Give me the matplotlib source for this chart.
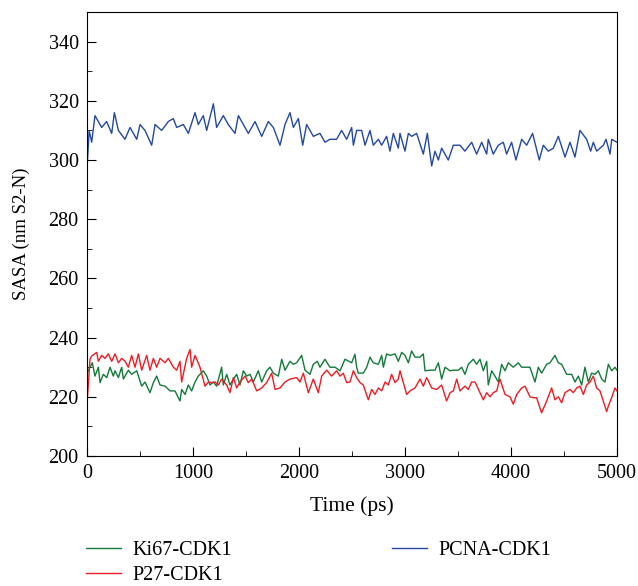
import matplotlib.pyplot as plt
from matplotlib.ticker import MultipleLocator

# values
pcna_t = [0, 20, 44, 75, 138, 185, 233, 258, 296, 358, 406, 469, 500, 547, 610, 642, 704, 767,
          814, 846, 909, 956, 1019, 1050, 1097, 1129, 1192, 1223, 1286, 1333, 1396, 1428, 1475,
          1522, 1585, 1648, 1711, 1758, 1821, 1868, 1915, 1947, 1994, 2035, 2072, 2135, 2198,
          2245, 2292, 2355, 2402, 2450, 2497, 2513, 2544, 2591, 2623, 2670, 2701, 2749, 2780,
          2827, 2858, 2890, 2937, 2953, 3000, 3032, 3063, 3110, 3173, 3211, 3252, 3283, 3315,
          3346, 3409, 3456, 3519, 3566, 3629, 3676, 3724, 3771, 3786, 3833, 3881, 3928, 3959,
          4006, 4047, 4101, 4148, 4204, 4267, 4305, 4352, 4400, 4447, 4510, 4557, 4604, 4651,
          4714, 4752, 4777, 4809, 4872, 4897, 4935, 4951, 5000]
pcna_v = [297, 310, 306, 315, 311, 313, 309, 316, 310, 307, 311, 307, 312, 310, 305, 312, 310, 313,
          314, 311, 312, 309, 316, 312, 315, 310, 319, 311, 315, 312, 309, 315, 312,
          309, 313, 308, 313, 311, 305, 312, 316, 311, 314, 305, 312, 308, 309,
          306, 307, 307, 310, 307, 311, 305, 310, 310, 305, 310, 305, 307, 305,
          308, 303, 309, 304, 309, 303, 309, 308, 309, 302, 309, 298, 303, 300,
          304, 300, 305, 305, 303, 306, 302, 306, 302, 307, 302, 305, 306, 302,
          306, 300, 307, 305, 309, 300, 305, 303, 304, 308, 301, 306, 301, 310,
          307, 303, 306, 303, 305, 307, 302, 307, 306]

ki67_t = [0, 28, 50, 75, 107, 123, 154, 186, 217, 248, 264, 296, 327, 343, 390, 421, 469, 516,
          547, 594, 626, 657, 689, 736, 783, 830, 877, 893, 925, 956, 987, 1019, 1050, 1097,
          1129, 1160, 1192, 1223, 1270, 1286, 1318, 1349, 1381, 1412, 1443, 1475, 1506, 1538,
          1569, 1616, 1648, 1695, 1726, 1758, 1805, 1837, 1868, 1915, 1947, 1978, 2025, 2057,
          2104, 2135, 2173, 2198, 2245, 2292, 2340, 2387, 2434, 2497, 2528, 2544, 2560, 2607,
          2639, 2670, 2701, 2749, 2780, 2796, 2827, 2859, 2906, 2937, 2969, 3000, 3032, 3063,
          3095, 3142, 3173, 3189, 3236, 3283, 3315, 3346, 3378, 3425, 3456, 3503, 3535, 3566,
          3598, 3645, 3676, 3708, 3739, 3771, 3786, 3818, 3849, 3881, 3912, 3944, 3975, 4022,
          4069, 4101, 4132, 4179, 4227, 4258, 4289, 4337, 4368, 4415, 4447, 4478, 4525, 4573,
          4604, 4636, 4667, 4698, 4730, 4761, 4793, 4824, 4856, 4887, 4919, 4950, 4981, 5000]
ki67_v = [228, 230, 231.5, 227, 230, 224.8, 227.6, 226.5, 230, 227, 228.8, 226.5, 230, 226, 229, 227.6, 228.8, 223.6,
          225, 221.4, 224.8, 227, 224, 223.6, 222, 222, 218.6, 222.5, 220.8, 224, 222, 225, 227, 228.8,
          227, 224, 225, 223.6, 230, 224, 227.6, 224, 226, 227.6, 224, 228.8, 227, 227.6,
          225, 228.8, 225, 228.8, 230, 228, 227, 232.7, 229, 232, 231, 231.5, 234, 229,
          227.6, 231, 232, 230, 232.7, 230, 230, 228.8, 232.7, 231.5, 234.4, 230, 228, 228,
          230, 233.4, 231.5, 231, 234, 230, 234.5, 234, 234.5, 232, 235, 234, 231.5, 235.5,
          233.4, 233.4, 234.5, 228.8, 229, 229, 231.5, 226, 230, 228.8, 229, 229, 230, 227.6,
          231, 232.7, 231, 232.7, 228.8, 232, 224, 228.8, 227, 225, 231, 228.8, 231.5, 230,
          231.5, 230, 230, 230, 225, 230, 228, 231, 231.5, 234, 231.5, 231, 227.6, 227.6,
          225, 227, 224, 230, 225, 228, 227.6, 228.8, 226, 225, 231, 228.8, 230, 229]

p27_t = [0, 28, 44, 91, 107, 138, 170, 201, 233, 264, 296, 327, 359, 390, 421, 453, 484, 516,
         563, 594, 626, 657, 689, 736, 767, 815, 846, 877, 893, 940, 972, 987, 1019, 1066,
         1113, 1145, 1176, 1208, 1239, 1270, 1318, 1349, 1381, 1412, 1443, 1491, 1522, 1554,
         1601, 1648, 1695, 1742, 1774, 1821, 1868, 1915, 1978, 2009, 2041, 2088, 2135, 2182,
         2214, 2261, 2308, 2355, 2387, 2418, 2450, 2481, 2513, 2544, 2576, 2607, 2654, 2686,
         2717, 2749, 2780, 2812, 2843, 2874, 2906, 2937, 2953, 2984, 3016, 3047, 3095, 3142,
         3173, 3205, 3252, 3299, 3346, 3393, 3425, 3456, 3488, 3519, 3566, 3598, 3629, 3661,
         3708, 3739, 3771, 3802, 3834, 3865, 3896, 3944, 3991, 4022, 4054, 4101, 4133, 4179,
         4211, 4242, 4289, 4337, 4384, 4415, 4447, 4478, 4510, 4557, 4588, 4620, 4651, 4683,
         4714, 4746, 4777, 4808, 4840, 4871, 4903, 4919, 4950, 4981, 5000]
p27_v = [217.5, 232.7, 233.8, 235, 232, 234, 233, 234.5, 232, 234.5, 231.5, 233, 232, 230, 234, 230, 234.5, 229,
         234, 229, 233, 230, 233, 231.5, 233, 230, 229, 232, 225, 233, 236, 230, 234, 230,
         223.6, 225, 224.8, 225, 224, 226, 224, 221.4, 226.5, 223, 225, 227, 224.8, 226,
         222, 223, 224.8, 228, 222.5, 223, 225, 226, 226.5, 225, 228, 221.4, 226, 221.4,
         227, 229, 227, 228.8, 227, 228, 224.8, 225, 228.8, 226.5, 224.8, 224, 219, 222.5,
         220.8, 223, 222, 225, 224, 227.6, 224.8, 226, 228.8, 224.8, 220.8, 222, 223, 226,
         223.6, 226.5, 223, 222.5, 224, 218.6, 221.4, 222, 226, 222, 223.6, 222.5, 225, 225,
         221.4, 219, 221.4, 220, 221.4, 222, 226, 220.8, 220, 217.5, 220.8, 223, 223.6, 220,
         219.7, 219.7, 214.6, 218.6, 223, 219, 220, 218, 221.4, 222.5, 221.4, 223, 223.6, 220.8,
         224, 225, 227, 223, 222, 218.6, 215, 216.9, 219.7, 223, 222]

plt.rcParams['font.family'] = ['Liberation Serif', 'DejaVu Serif']

fig = plt.figure(figsize=(6.38, 5.86), dpi=100)
ax = fig.add_axes([0.1364, 0.2218, 0.8306, 0.7577])

l1, = ax.plot(ki67_t, ki67_v, color='#137a3a', lw=1.0, label='Ki67-CDK1')
l2, = ax.plot(p27_t, p27_v, color='#ee1c25', lw=1.0, label='P27-CDK1')
l3, = ax.plot(pcna_t, pcna_v, color='#2448a2', lw=1.0, label='PCNA-CDK1')

ax.set_xlim(0, 5000)
ax.set_ylim(200, 350)
ax.set_yticks([200, 220, 240, 260, 280, 300, 320, 340])
ax.xaxis.set_major_locator(MultipleLocator(1000))
ax.xaxis.set_minor_locator(MultipleLocator(500))
ax.yaxis.set_minor_locator(MultipleLocator(10))
ax.tick_params(which='both', direction='in', top=False, right=False, labelsize=14.5, pad=6)
ax.tick_params(which='major', length=6.5)
ax.tick_params(which='minor', length=3.3)
ax.set_xlabel('Time (ps)', fontsize=15.5, labelpad=9)
ax.set_ylabel('SASA (nm S2-N)', fontsize=13.5, labelpad=13)

fig.legend(handles=[l1, l2, l3], ncol=2, loc='upper left', bbox_to_anchor=(0.1348, 0.077),
           frameon=False, fontsize=14.5, handlelength=1.75, handletextpad=0.58,
           columnspacing=7.9, labelspacing=0.3, borderpad=0, borderaxespad=0)

fig.savefig('out.png', dpi=100)
